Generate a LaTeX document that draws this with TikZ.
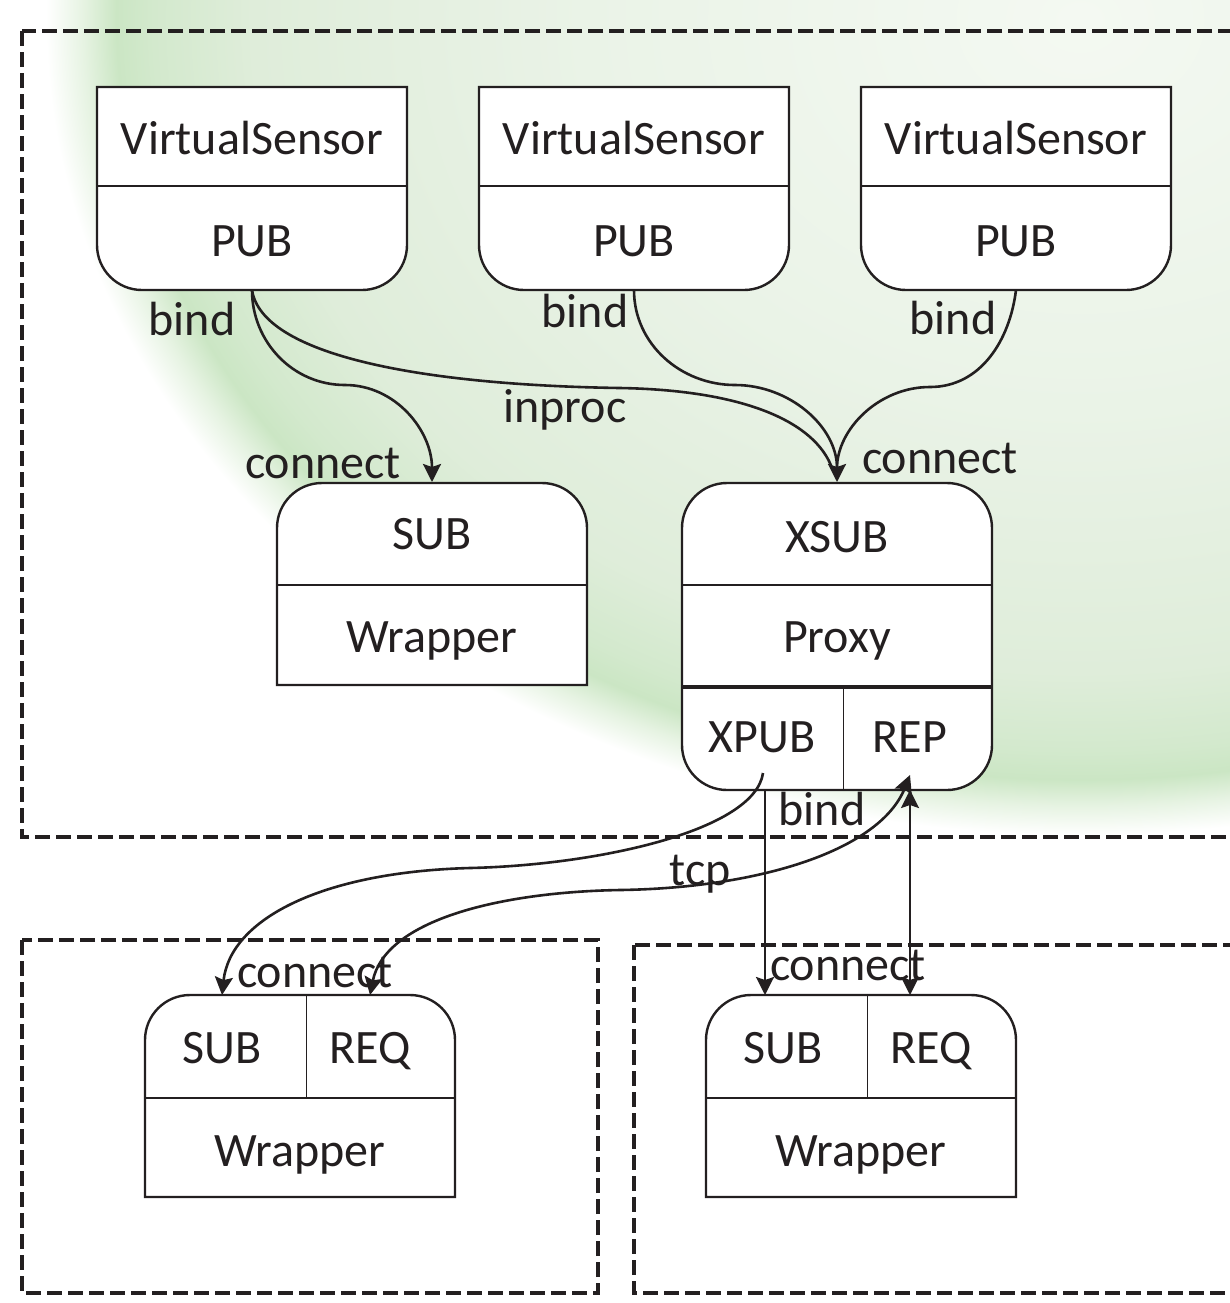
\documentclass[tikz,border=0pt]{standalone}
\usepackage{fontspec}
\setmainfont{Carlito}
\usetikzlibrary{arrows.meta}

\definecolor{ink}{HTML}{231F20}
\definecolor{swA}{RGB}{244,249,242}
\definecolor{swB}{RGB}{234,243,231}
\definecolor{swC}{RGB}{223,237,218}
\definecolor{swD}{RGB}{211,233,205}
\definecolor{swE}{RGB}{203,230,196}
\definecolor{swF}{RGB}{230,243,226}

% soft green swoosh behind the upper area
\pgfdeclareradialshading{swoosh}{\pgfpoint{0bp}{0bp}}{%
  color(0bp)=(swA); color(12bp)=(swB); color(20bp)=(swC);
  color(22.4bp)=(swD); color(23.3bp)=(swE); color(24.1bp)=(swF);
  color(25bp)=(white); color(50bp)=(white)}

\begin{document}
\begin{tikzpicture}[x=0.5pt,y=-0.5pt,
  boxline/.style={draw=ink,line width=1.2pt,fill=white},
  divider/.style={draw=ink,line width=1.1pt},
  thickdiv/.style={draw=ink,line width=2pt},
  thindiv/.style={draw=ink,line width=0.5pt},
  region/.style={draw=ink,line width=2.3pt,dash pattern=on 7.5pt off 3pt},
  conn/.style={draw=ink,line width=1.3pt},
  tip/.style={-{Stealth[length=9pt,width=9pt,inset=1.5pt]}},
  tipboth/.style={{Stealth[length=9pt,width=9pt,inset=1.5pt]}-{Stealth[length=9pt,width=9pt,inset=1.5pt]}},
  lbl/.style={text=ink,font=\fontsize{24}{28}\selectfont,anchor=base,inner sep=0pt},
]
\useasboundingbox (0,0) rectangle (1230,1303);
\begin{scope}
\clip (0,0) rectangle (1230,1303);

% background
\fill[white] (0,0) rectangle (1230,1303);
\shade[shading=swoosh] (1080,20) ellipse [x radius=1034, y radius=815];

% dashed deployment regions
\draw[region] (22,31) rectangle (1260,837);
\draw[region] (22,940) rectangle (598,1293);
\draw[region] (634,945) rectangle (1260,1293);

% virtual sensors (rounded bottom corners)
\foreach \L/\R in {97/407, 479/789, 861/1171} {
  \draw[boxline] (\L,87) -- (\R,87) -- (\R,245)
    arc[start angle=0,end angle=-90,radius=22.5pt] -- ({\L+45},290)
    arc[start angle=-90,end angle=-180,radius=22.5pt] -- cycle;
  \draw[divider] (\L,186) -- (\R,186);
}

% local SUB wrapper (rounded top corners)
\draw[boxline] (277,685) -- (277,528)
  arc[start angle=180,end angle=90,radius=22.5pt] -- (542,483)
  arc[start angle=90,end angle=0,radius=22.5pt] -- (587,685) -- cycle;
\draw[divider] (277,585) -- (587,585);

% proxy
\draw[boxline,rounded corners=22.5pt] (682,483) rectangle (992,790);
\draw[divider] (682,585) -- (992,585);
\draw[thickdiv] (682,687) -- (992,687);
\draw[thindiv] (843,687) -- (843,790);

% remote wrappers
\foreach \L/\M/\R in {145/306/455, 706/867/1016} {
  \draw[boxline] (\L,1197) -- (\L,1040)
    arc[start angle=180,end angle=90,radius=22.5pt] -- ({\R-45},995)
    arc[start angle=90,end angle=0,radius=22.5pt] -- (\R,1197) -- cycle;
  \draw[divider] (\L,1098) -- (\R,1098);
  \draw[thindiv] (\M,995) -- (\M,1098);
}

% texts inside the boxes
\node[lbl] (vs1-name) at (252,154) {VirtualSensor};
\node[lbl] (vs2-name) at (634,154) {VirtualSensor};
\node[lbl] (vs3-name) at (1016,154) {VirtualSensor};
\node[lbl] (vs1-pub) at (252,256) {PUB};
\node[lbl] (vs2-pub) at (634,256) {PUB};
\node[lbl] (vs3-pub) at (1016,256) {PUB};
\node[lbl] (loc-sub) at (432,549) {SUB};
\node[lbl] (loc-wrap) at (432,652) {Wrapper};
\node[lbl] (px-xsub) at (837,552) {XSUB};
\node[lbl] (px-name) at (837,652) {Proxy};
\node[lbl] (px-xpub) at (762,752) {XPUB};
\node[lbl] (px-rep) at (910,752) {REP};
\node[lbl] (bl-sub) at (222,1063) {SUB};
\node[lbl] (bl-req) at (370,1063) {REQ};
\node[lbl] (bl-wrap) at (300,1166) {Wrapper};
\node[lbl] (br-sub) at (783,1063) {SUB};
\node[lbl] (br-req) at (931,1063) {REQ};
\node[lbl] (br-wrap) at (861,1166) {Wrapper};

% connector end points
\coordinate (vs1-out) at (252,290);
\coordinate (vs2-out) at (634,290);
\coordinate (vs3-out) at (1016,290);
\coordinate (sub-in) at (432,482);
\coordinate (xsub-in) at (837,482);
\coordinate (bend-a) at (345,385);
\coordinate (bend-b) at (620,388);
\coordinate (bend-c) at (735,385);
\coordinate (bend-d) at (930,387);
\coordinate (xpub-out) at (763,773);
\coordinate (xpub-low) at (765,790);
\coordinate (rep-in) at (910,775);
\coordinate (rep-low) at (910,790);
\coordinate (bl-sub-in) at (222,995);
\coordinate (bl-req-in) at (370,995);
\coordinate (br-sub-in) at (765,995);
\coordinate (br-req-in) at (910,995);
\coordinate (bend-e) at (470,868);
\coordinate (bend-f) at (620,890);

% inproc connections
\draw[conn,tip] (vs1-out) to[out=-90,in=180] (bend-a) to[out=0,in=90] (sub-in);
\draw[conn,shorten >=7pt] (vs1-out) .. controls (262,355) and (420,385) .. (bend-b)
  .. controls (740,390) and (815,420) .. (xsub-in);
\draw[conn,tip] (vs2-out) to[out=-90,in=180] (bend-c) to[out=0,in=90] (xsub-in);
\draw[conn,shorten >=7pt] (vs3-out) to[out=-97,in=0] (bend-d) to[out=180,in=90] (xsub-in);

% tcp connections
\draw[conn,tip] (xpub-out) .. controls (755,830) and (600,865) .. (bend-e)
  .. controls (320,872) and (230,920) .. (bl-sub-in);
\draw[conn,tipboth] (bl-req-in) .. controls (385,920) and (500,892) .. (bend-f)
  .. controls (760,888) and (880,850) .. (rep-in);
\draw[conn,tip] (xpub-low) -- (br-sub-in);
\draw[conn,tipboth] (br-req-in) -- (rep-low);

% connector labels
\node[lbl] (l-bind1) at (192,335) {bind};
\node[lbl] (l-bind2) at (585,327) {bind};
\node[lbl] (l-bind3) at (953,334) {bind};
\node[lbl] (l-inproc) at (565,422) {inproc};
\node[lbl] (l-conn1) at (323,478) {connect};
\node[lbl] (l-conn2) at (940,473) {connect};
\node[lbl] (l-bind4) at (822,825) {bind};
\node[lbl] (l-tcp) at (700,885) {tcp};
\node[lbl] (l-conn3) at (315,987) {connect};
\node[lbl] (l-conn4) at (848,980) {connect};
\end{scope}
\end{tikzpicture}
\end{document}
